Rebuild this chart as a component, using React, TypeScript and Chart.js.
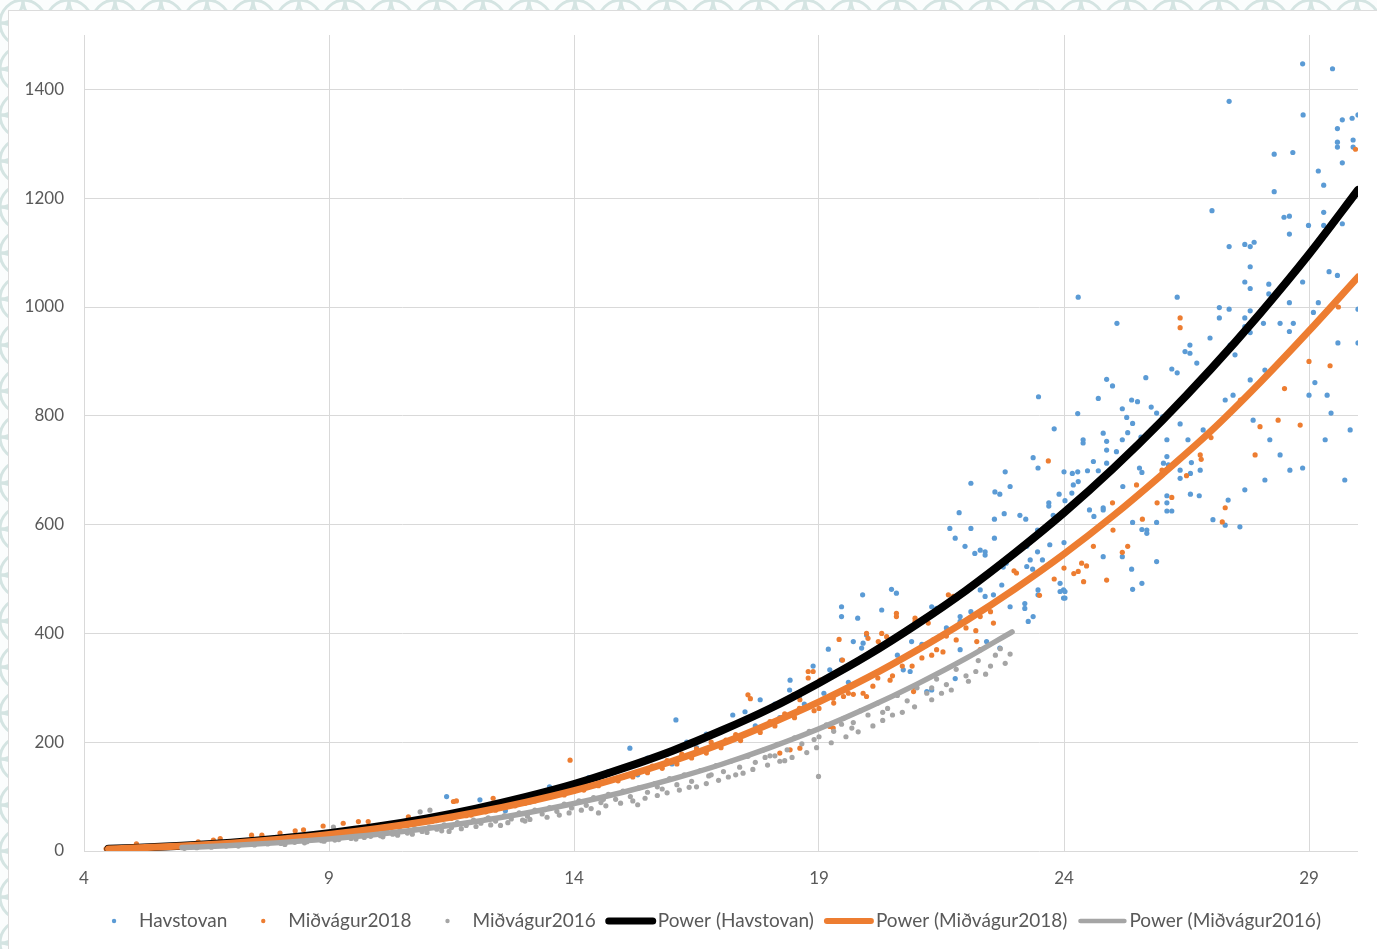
import React, { useEffect, useRef } from "react";
import { Chart, registerables } from "chart.js";

Chart.register(...registerables);

// Axis ticks
const xTicks = [4, 9, 14, 19, 24, 29];
const yTicks = [0, 200, 400, 600, 800, 1000, 1200, 1400];

const seriesNames = ["Havstovan", "Miðvágur2018", "Miðvágur2016"];
const trendNames = ["Power (Havstovan)", "Power (Miðvágur2018)", "Power (Miðvágur2016)"];

// Measured samples: [x, y]
const havstovan: [number, number][] = [
  [5.3, 7], [5.8, 9], [6.5, 12], [7.1, 17], [7.7, 21], [8.3, 27], [8.9, 33], [9.4, 38], [9.9, 44],
  [10.4, 51], [10.9, 58], [11.4, 100], [11.7, 68], [12.08, 94], [12.3, 80], [12.8, 92], [13.2, 104],
  [13.5, 118], [13.9, 121], [14.3, 135], [14.7, 146], [15.0, 150], [15.14, 189], [15.5, 171], [15.9, 178],
  [16.08, 241], [16.3, 200], [16.7, 215], [17.0, 219], [17.24, 250], [17.49, 256], [17.8, 278], [18.1, 270],
  [18.4, 296], [18.6, 284], [18.88, 340], [18.41, 314], [19.19, 371], [19.22, 333], [19.46, 351],
  [19.46, 449], [19.46, 431], [19.7, 385], [19.79, 428], [19.87, 373], [19.89, 471], [19.9, 382],
  [19.97, 397], [20.28, 443], [20.45, 388], [20.48, 481], [20.58, 474], [20.72, 333], [20.79, 406],
  [20.86, 330], [20.89, 385], [21.2, 293], [21.3, 296], [21.3, 449], [21.4, 446], [21.78, 317],
  [21.88, 431], [21.88, 422], [21.88, 370], [22.29, 480], [22.39, 468], [22.42, 385], [22.56, 471],
  [22.69, 373], [22.73, 489], [22.9, 449], [23.2, 455], [23.2, 446], [23.27, 422], [23.37, 431],
  [23.47, 480], [23.47, 471], [23.92, 492], [23.99, 480], [23.99, 465],
  [9.7, 40], [10.6, 50], [11.2, 56], [12.6, 74], [13.1, 90], [13.7, 104], [14.5, 125], [15.3, 140],
  [16.0, 160], [16.5, 190], [17.3, 208], [17.7, 230], [18.2, 245], [18.7, 270], [19.1, 290], [19.6, 310],
  [20.2, 330], [20.6, 360], [21.1, 380], [21.6, 410], [22.1, 440],
  [21.67, 593], [22.1, 593], [21.78, 575], [21.98, 560], [22.18, 547], [22.29, 553], [22.39, 550],
  [22.39, 544], [22.58, 575], [23.46, 590], [23.47, 581], [24.0, 567], [23.71, 563], [23.24, 560],
  [23.46, 550], [23.56, 535], [23.31, 535], [22.82, 529], [22.56, 518], [22.76, 522], [23.24, 523],
  [23.36, 518], [24.02, 477], [24.02, 465], [23.92, 477], [24.8, 541], [25.19, 541],
  [25.38, 518], [25.4, 481], [25.59, 492], [25.89, 532],
  [22.1, 676], [22.9, 670], [22.59, 660], [22.69, 656], [24.19, 673], [24.16, 658], [24.29, 679],
  [23.9, 656], [24.02, 644], [23.69, 640], [23.69, 634], [21.86, 622], [22.58, 610], [22.78, 620],
  [23.1, 617], [23.22, 610], [23.78, 617], [24.52, 627], [24.61, 615], [24.8, 631], [24.8, 627],
  [25.2, 670], [26.1, 653], [26.1, 640], [26.1, 625], [26.2, 625], [26.58, 656], [26.76, 653],
  [25.4, 604], [25.59, 591], [25.69, 590], [25.69, 584], [25.89, 604],
  [22.8, 697], [23.37, 723], [23.47, 704], [24.0, 697], [24.17, 694], [24.28, 697], [24.48, 699],
  [24.7, 699], [24.6, 716], [24.87, 713], [25.54, 704], [25.59, 696], [26.03, 713], [26.13, 710],
  [26.6, 714], [26.58, 694], [26.37, 685],
  [26.57, 930], [26.47, 918], [26.57, 915], [26.71, 897], [26.2, 886], [26.31, 879], [25.67, 870],
  [24.87, 867], [24.99, 855], [23.48, 835], [24.7, 832], [25.38, 829], [25.5, 826], [25.19, 813],
  [25.78, 816], [24.28, 804], [25.28, 797], [25.4, 786], [25.89, 805], [26.01, 798], [23.8, 776],
  [24.8, 768], [25.3, 769], [25.78, 774], [25.57, 761], [24.39, 756], [24.39, 750], [24.87, 753],
  [25.19, 756], [26.37, 785], [24.87, 737], [25.07, 734], [26.1, 756], [26.1, 725],
  [24.29, 1018], [25.08, 970],
  [28.87, 1447], [29.48, 1438], [27.37, 1378], [28.88, 1353], [29.68, 1344], [29.88, 1347],
  [30.0, 1353], [29.58, 1328], [29.58, 1303], [29.58, 1294], [29.9, 1307], [29.9, 1294],
  [28.29, 1281], [28.67, 1284], [29.68, 1265], [29.19, 1250], [29.3, 1224], [28.29, 1212],
  [27.02, 1177], [28.49, 1165], [28.6, 1167], [29.3, 1174], [28.99, 1150], [29.3, 1150],
  [29.68, 1153], [28.6, 1134], [27.37, 1111], [27.69, 1115], [27.8, 1111], [27.88, 1119],
  [27.8, 1074], [27.69, 1046], [27.8, 1034], [28.18, 1042], [28.18, 1024], [28.87, 1046],
  [29.41, 1065], [29.58, 1058], [26.31, 1018], [27.17, 999], [27.37, 996], [27.8, 993],
  [28.6, 1008], [29.19, 1008], [30.0, 996], [27.17, 980], [27.69, 980], [27.69, 964],
  [28.07, 970], [28.41, 970], [28.68, 970], [29.09, 990], [28.6, 955], [27.8, 953],
  [26.98, 943], [27.39, 930], [27.49, 912], [27.29, 829], [27.45, 838], [27.8, 866], [28.1, 884],
  [27.86, 792], [28.2, 756], [28.41, 728], [28.61, 700], [28.1, 682], [27.69, 664], [27.35, 645],
  [27.04, 609], [27.59, 596], [27.29, 599], [26.84, 774], [26.78, 700], [26.53, 756], [26.37, 700],
  [28.87, 704], [29.45, 805], [29.37, 838], [29.59, 934], [30.0, 934], [29.12, 861], [29.33, 756],
  [29.84, 774], [29.73, 682], [29.0, 838],
];

const midvagur2018: [number, number][] = [
  [4.45, 4], [4.6, 5], [4.75, 4], [4.9, 6], [5.07, 13], [5.1, 6], [5.25, 7], [5.4, 7], [5.55, 8],
  [5.7, 8], [5.85, 9], [6.0, 10], [6.2, 11], [6.33, 17], [6.5, 12], [6.64, 20], [6.78, 23], [7.0, 15],
  [7.2, 16], [7.42, 29], [7.6, 18], [7.63, 29], [7.9, 21], [8.0, 33], [8.2, 23], [8.31, 37], [8.48, 39],
  [8.6, 27], [8.88, 46], [9.0, 30], [9.29, 51], [9.4, 34], [9.6, 54], [9.8, 54], [9.9, 40], [10.2, 44],
  [10.62, 63], [10.5, 48], [10.9, 54], [11.3, 60], [11.54, 91], [11.6, 92], [11.8, 65], [12.2, 72],
  [12.35, 97], [12.6, 80], [13.0, 88], [13.3, 95], [13.6, 104], [13.92, 167], [14.0, 110], [14.3, 118],
  [14.6, 126], [15.0, 136], [15.3, 146], [15.6, 156], [15.9, 166], [16.2, 178], [16.5, 188], [16.8, 200],
  [17.1, 204], [17.3, 214], [17.55, 287], [17.6, 280], [17.7, 222], [18.0, 238], [18.2, 180],
  [18.41, 186], [18.61, 189], [18.3, 252], [18.6, 262],
  [8.4, 24], [8.8, 28], [9.2, 31], [9.7, 36], [10.1, 41], [10.6, 47], [11.1, 54], [11.5, 60], [11.9, 66],
  [12.4, 75], [12.8, 83], [13.2, 92], [13.5, 99], [13.8, 103], [14.2, 112], [14.5, 120], [14.9, 129],
  [15.2, 136], [15.5, 144], [15.8, 152], [16.1, 160], [16.4, 171], [16.7, 180], [17.0, 190], [17.4, 203],
  [17.8, 218], [18.1, 230], [18.5, 245], [18.9, 258], [19.3, 272], [19.7, 288], [20.1, 303], [20.5, 322],
  [20.9, 340], [21.3, 360], [21.8, 388], [22.2, 405],
  [18.88, 330], [18.78, 330], [18.78, 318], [19.02, 314], [19.41, 389], [19.48, 351], [19.97, 400],
  [20.0, 391], [20.21, 385], [20.24, 373], [20.58, 437], [20.58, 431], [20.96, 428], [20.96, 422],
  [20.28, 400], [20.38, 394], [21.23, 419], [21.33, 388], [21.4, 370], [21.53, 366], [21.74, 468],
  [21.64, 471], [22.29, 431], [22.56, 419], [20.93, 302], [20.93, 293], [20.45, 314], [19.9, 290],
  [19.97, 284], [19.29, 281], [19.5, 284], [18.48, 287], [18.61, 278], [19.22, 229], [19.29, 226],
  [22.29, 370], [22.22, 385], [19.0, 262], [19.6, 290], [20.2, 318], [20.7, 340], [21.1, 355],
  [21.6, 395], [22.0, 410], [22.5, 440],
  [23.68, 717], [24.99, 640], [25.48, 673], [25.19, 549], [24.87, 498], [24.29, 514], [24.36, 529],
  [24.46, 524], [24.2, 510], [23.03, 511], [22.98, 515], [23.5, 470], [23.8, 500], [24.0, 520],
  [24.6, 560], [25.0, 590], [25.3, 560], [25.6, 610], [25.9, 640], [26.2, 650], [26.5, 690],
  [26.8, 720], [24.4, 495], [26.0, 700],
  [26.37, 980], [26.37, 962], [29.43, 892], [28.82, 783], [27.29, 631], [27.23, 605], [27.9, 728],
  [28.37, 792], [26.78, 728], [27.6, 829], [28.0, 780], [29.0, 900], [29.6, 1000], [28.5, 850],
  [27.0, 760], [29.95, 1290],
];

const midvagur2016: [number, number][] = [
  [6.05, 5], [6.18, 8], [6.3, 6], [6.47, 9], [6.6, 7], [6.72, 11], [6.9, 9], [7.05, 12], [7.15, 9],
  [7.3, 13], [7.48, 11], [7.6, 15], [7.75, 13], [7.88, 17], [8.02, 14], [8.15, 18], [8.3, 16],
  [8.42, 20], [8.55, 17], [8.7, 22], [8.85, 19], [9.0, 24], [9.09, 44], [9.12, 20], [9.3, 26],
  [9.45, 23], [9.6, 29], [9.72, 25], [9.9, 32], [10.05, 28], [10.18, 35], [10.3, 31], [10.45, 38],
  [10.6, 33], [10.75, 41], [10.86, 72], [10.9, 36], [11.06, 75], [11.05, 44], [11.2, 40], [11.35, 48],
  [11.5, 43], [11.62, 52], [11.8, 47], [11.95, 57], [12.1, 51], [12.25, 61], [12.4, 55], [12.5, 47],
  [12.58, 65], [12.72, 59], [12.88, 70], [13.0, 55], [13.05, 64], [13.2, 75], [13.35, 68], [13.5, 80],
  [13.65, 73], [13.8, 86], [13.95, 79], [14.1, 92], [14.25, 84], [14.4, 98], [14.5, 70], [14.55, 89],
  [14.7, 104], [14.85, 95], [15.0, 110], [15.15, 100], [15.3, 85], [15.32, 116], [15.5, 108],
  [15.65, 124], [15.8, 114], [15.95, 133], [16.1, 122], [16.25, 140], [16.4, 128], [16.5, 118],
  [16.58, 148], [16.75, 138], [16.9, 157], [17.05, 146], [17.2, 165], [17.3, 140], [17.38, 154],
  [17.55, 174], [17.7, 163], [17.85, 185], [18.0, 175], [18.1, 175], [18.15, 196], [18.3, 166],
  [18.35, 186], [18.5, 208], [18.65, 197], [18.8, 220], [18.99, 137], [19.0, 210], [19.15, 232],
  [19.3, 220], [19.46, 233], [19.5, 244], [19.67, 226], [19.7, 236], [19.85, 258], [20.0, 250],
  [20.2, 272], [20.4, 262], [20.5, 250], [20.6, 286], [20.8, 276], [21.0, 300], [21.2, 290],
  [21.4, 316], [21.5, 290], [21.6, 306], [21.8, 334], [22.0, 322], [22.2, 330], [22.25, 350],
  [22.5, 340], [22.7, 372], [22.9, 362],
  [8.1, 12], [8.5, 15], [8.9, 18], [9.2, 21], [9.55, 22], [9.85, 27], [10.1, 26], [10.4, 29], [10.7, 31],
  [11.0, 34], [11.3, 37], [11.45, 36], [11.7, 41], [12.0, 45], [12.3, 48], [12.65, 52], [12.95, 57],
  [13.1, 58], [13.45, 62], [13.7, 66], [13.9, 70], [14.15, 75], [14.35, 78], [14.65, 83], [14.95, 88],
  [15.2, 92], [15.45, 97], [15.7, 102], [15.9, 107], [16.15, 112], [16.35, 117], [16.7, 124], [16.95, 130],
  [17.15, 136], [17.45, 143], [17.65, 150], [17.95, 158], [18.2, 165], [18.45, 172], [18.75, 181],
  [18.95, 190], [19.25, 199], [19.55, 210], [19.8, 219], [20.1, 230], [20.3, 240], [20.7, 255],
  [20.95, 265], [21.3, 278], [21.7, 296], [22.05, 312], [22.4, 325], [22.8, 345],
  [12.2, 58], [13.4, 76], [14.6, 95], [15.7, 118], [16.8, 140], [17.9, 172], [18.9, 205], [20.3, 255],
  [21.3, 300], [22.6, 360],
];

// Power trend curves
const trendHavX = [4.5, 5, 6, 7, 8, 9, 10, 11, 12, 13, 14, 15, 16, 17, 18, 19, 20, 21, 22, 23, 24, 25, 26, 27, 28, 29, 30];
const trendHavY = [4.1, 5.6, 9.7, 15.4, 23, 32.8, 45, 60, 78, 99, 123, 152, 184, 221, 262, 309, 360, 417, 479, 548, 622, 703, 791, 886, 988, 1097, 1215];
const trend2018X = [4.5, 5, 6, 7, 8, 9, 10, 11, 12, 13, 14, 15, 16, 17, 18, 19, 20, 21, 22, 23, 24, 25, 26, 27, 28, 29, 30];
const trend2018Y = [3.9, 5.3, 9.1, 14.4, 21.4, 30.2, 41.3, 54.7, 70.7, 89.5, 111, 136.5, 165, 197, 234, 274, 319, 369, 423, 482, 546, 616, 692, 772, 861, 956, 1055];
const trend2016X = [6, 7, 8, 9, 10, 11, 12, 13, 14, 15, 16, 17, 18, 19, 20, 21, 22, 22.94];
const trend2016Y = [6.3, 10.2, 15.4, 22.2, 30.7, 41.3, 54.1, 69.3, 87.2, 108, 132, 159, 190, 224.6, 263.6, 306.8, 354, 403];

const BLUE = "#5b9bd5";
const ORANGE = "#ed7d31";
const GRAY = "#a5a5a5";
const BLACK = "#000000";
const TEXT = "#595959";
const GRID = "#d9d9d9";
const FONT = "Lato, 'Open Sans', sans-serif";

const toPts = (arr: [number, number][]) => arr.map(([x, y]) => ({ x, y }));
const zip = (xs: number[], ys: number[]) => xs.map((x, i) => ({ x, y: ys[i] }));

// Legend row under the x axis: dot markers for samples, thick strokes for trends
const bottomLegend = {
  id: "bottomLegend",
  afterDraw(chart: any) {
    const ctx: CanvasRenderingContext2D = chart.ctx;
    const items = chart.data.datasets.map((d: any) => ({
      label: d.label,
      kind: d.showLine ? "line" : "point",
      color: d.showLine ? d.borderColor : d.pointBackgroundColor,
      width: d.legendWidth || 0,
    }));
    ctx.save();
    ctx.font = `19px ${FONT}`;
    ctx.textBaseline = "middle";
    const y = 921;
    let total = 0;
    items.forEach((it: any, i: number) => {
      const w = ctx.measureText(it.label).width;
      if (it.kind === "point") total += (i === 0 ? 3 : 36) + 25 + w;
      else total += 10 + 52 + w;
    });
    let x = 716 - total / 2;
    items.forEach((it: any, i: number) => {
      const w = ctx.measureText(it.label).width;
      if (it.kind === "point") {
        x += i === 0 ? 3 : 36;
        ctx.beginPath();
        ctx.fillStyle = it.color;
        ctx.arc(x, y, 2.2, 0, Math.PI * 2);
        ctx.fill();
        x += 25;
      } else {
        x += 10;
        ctx.beginPath();
        ctx.strokeStyle = it.color;
        ctx.lineWidth = it.width;
        ctx.lineCap = "round";
        ctx.moveTo(x + 3, y);
        ctx.lineTo(x + 47, y);
        ctx.stroke();
        x += 52;
      }
      ctx.fillStyle = TEXT;
      ctx.fillText(it.label, x, y);
      x += w;
    });
    ctx.restore();
  },
};

const scallop =
  "url(\"data:image/svg+xml;utf8,<svg xmlns='http://www.w3.org/2000/svg' width='46' height='46'><g fill='none' stroke='%23d4e4e2' stroke-width='3'><circle cx='0' cy='0' r='23'/><circle cx='46' cy='0' r='23'/><circle cx='23' cy='23' r='23'/><circle cx='0' cy='46' r='23'/><circle cx='46' cy='46' r='23'/></g></svg>\")";

export default function App() {
  const canvasRef = useRef<HTMLCanvasElement | null>(null);

  useEffect(() => {
    if (!canvasRef.current) return;
    const pointDs = (label: string, data: [number, number][], color: string, order: number) => ({
      label,
      data: toPts(data),
      showLine: false,
      pointRadius: 2.6,
      pointBorderWidth: 0,
      pointBackgroundColor: color,
      pointBorderColor: color,
      order,
    });
    const trendDs = (label: string, xs: number[], ys: number[], color: string, width: number, legendWidth: number, order: number) => ({
      label,
      data: zip(xs, ys),
      showLine: true,
      pointRadius: 0,
      borderColor: color,
      borderWidth: width,
      legendWidth,
      cubicInterpolationMode: "monotone",
      borderCapStyle: "round",
      borderJoinStyle: "round",
      order,
    });

    const chart = new Chart(canvasRef.current, {
      type: "scatter",
      data: {
        datasets: [
          pointDs(seriesNames[0], havstovan, BLUE, 5),
          pointDs(seriesNames[1], midvagur2018, ORANGE, 4),
          pointDs(seriesNames[2], midvagur2016, GRAY, 3),
          trendDs(trendNames[0], trendHavX, trendHavY, BLACK, 8, 7, 2),
          trendDs(trendNames[1], trend2018X, trend2018Y, ORANGE, 7, 6, 1),
          trendDs(trendNames[2], trend2016X, trend2016Y, GRAY, 5.5, 4.5, 0),
        ] as any,
      },
      options: {
        animation: false,
        responsive: false,
        events: [],
        layout: { padding: { top: 35, right: 19, left: 0, bottom: 0 } },
        plugins: { legend: { display: false }, tooltip: { enabled: false } },
        scales: {
          x: {
            type: "linear",
            min: 4,
            max: 30,
            afterBuildTicks: (s: any) => {
              s.ticks = xTicks.map((v) => ({ value: v }));
            },
            afterFit: (s: any) => {
              s.height = 98;
            },
            grid: { color: GRID, lineWidth: 1, drawTicks: false },
            border: { display: false },
            ticks: {
              padding: 17,
              color: TEXT,
              font: { size: 17, family: FONT },
              autoSkip: false,
              maxRotation: 0,
              callback: (v: any) => String(v),
            },
          },
          y: {
            type: "linear",
            min: 0,
            max: 1500,
            afterBuildTicks: (s: any) => {
              s.ticks = yTicks.map((v) => ({ value: v }));
            },
            afterFit: (s: any) => {
              s.width = 84;
            },
            grid: { color: GRID, lineWidth: 1, drawTicks: false },
            border: { display: false },
            ticks: {
              padding: 20,
              color: TEXT,
              font: { size: 17, family: FONT },
              callback: (v: any) => String(v),
            },
          },
        },
      } as any,
      plugins: [bottomLegend],
    });
    return () => chart.destroy();
  }, []);

  return (
    <div
      style={{
        position: "fixed",
        left: 0,
        top: 0,
        width: 1377,
        height: 949,
        overflow: "hidden",
        backgroundColor: "#fbfdfd",
        backgroundImage: scallop,
      }}
    >
      <div
        style={{
          position: "absolute",
          left: 8,
          top: 10,
          width: 1400,
          height: 960,
          background: "#ffffff",
          border: "1px solid #dcdcdc",
          boxSizing: "border-box",
        }}
      />
      <canvas
        ref={canvasRef}
        width={1377}
        height={949}
        style={{ position: "absolute", left: 0, top: 0, width: 1377, height: 949 }}
      />
    </div>
  );
}
